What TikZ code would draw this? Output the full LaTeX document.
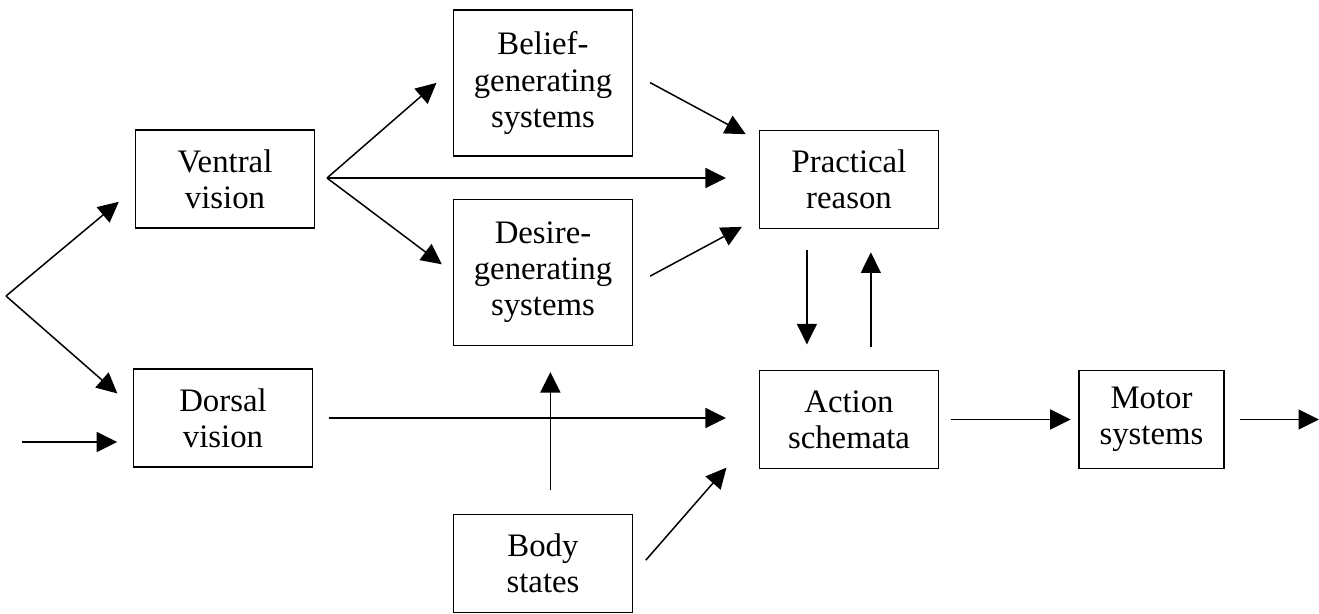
\documentclass[tikz,border=0pt]{standalone}
\usepackage{fontspec}
\setmainfont{Liberation Serif}
\usetikzlibrary{arrows.meta}

\begin{document}
\begin{tikzpicture}[x=0.366pt, y=-0.366pt, line width=0.55pt,
        box/.style = {draw, align=center, inner sep=0pt, minimum width=65.5pt, minimum height=36pt, font=\fontsize{12}{13.2}\selectfont},
        tall/.style = {box, minimum height=53.5pt},
        arr/.style = {-{Triangle[length=7.5pt,width=7.3pt]}}]
        \useasboundingbox (0,0) rectangle (1319,613);

        \node[box] (1) at (225,179) {Ventral\\vision};
        \node[box] (2) at (223,418) {Dorsal\\vision};
        \node[tall] (3) at (543,83) {Belief-\\generating\\systems};
        \node[tall] (4) at (543,272.5) {Desire-\\generating\\systems};
        \node[box] (5) at (849,179.5) {Practical\\reason};
        \node[box] (6) at (849,419.5) {Action\\schemata};
        \node[box, minimum width=53pt] (7) at (1151.5,419.5) {Motor\\systems};
        \node[box] (8) at (543,563.5) {Body\\states};

        \coordinate (inp) at (22,442);
        \coordinate (split) at (6,296);
        \coordinate (vfork) at (327,178);
        \coordinate (outp) at (1319,418);

        % input side
        \draw[arr, shorten >=5.7pt] (inp) -- (inp -| 2.west);
        \draw[arr, shorten >=7.6pt] (split) -- (1.186);
        \draw[arr, shorten >=7.5pt] (split) -- (2.173);

        % out of ventral vision
        \draw[arr, shorten >=7.9pt] (vfork) -- (3.171);
        \draw[arr, shorten >=12pt] (vfork) -- (vfork -| 5.west);
        \draw[arr, shorten >=5pt] (vfork) -- (4.west);

        % into practical reason
        \draw[arr, shorten <=7pt, shorten >=5.4pt] (3.6) -- (5.157);
        \draw[arr, shorten <=7pt, shorten >=7pt] (4.352) -- (5.203);

        % practical reason <-> action schemata
        \draw[arr, shorten <=7.7pt, shorten >=9.2pt] ([xshift=-15.4pt]5.south) -- ([xshift=-15.4pt]6.north);
        \draw[arr, shorten <=8.4pt, shorten >=8.4pt] ([xshift=8pt]6.north) -- ([xshift=8pt]5.south);

        % dorsal and body
        \draw[arr, shorten <=5.6pt, shorten >=12pt] (2.east) -- (2.east -| 6.west);
        \draw[arr, shorten <=8.6pt, shorten >=9.4pt] ([xshift=2.7pt]8.north) -- ([xshift=2.7pt]4.south);
        \draw[arr, shorten <=7pt, shorten >=18pt] (8.353) -- (6.187);

        % output side
        \draw[arr, shorten <=4.2pt, shorten >=2.8pt] (6.east) -- (7.west);
        \draw[arr, shorten <=5.5pt] (7.east) -- (7.east -| outp);
\end{tikzpicture}
\end{document}
